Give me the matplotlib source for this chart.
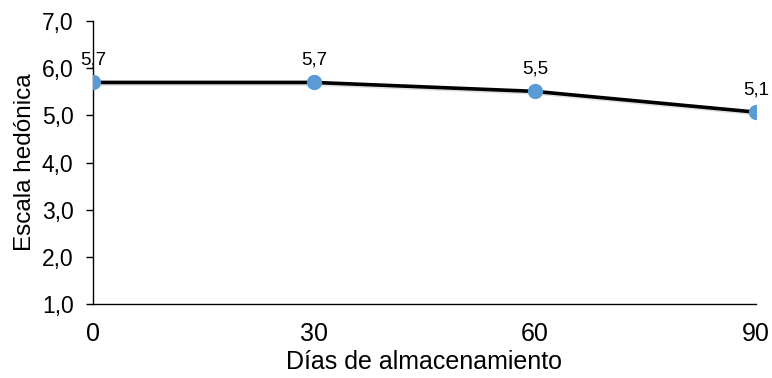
import matplotlib
matplotlib.use("Agg")
import matplotlib.pyplot as plt
import matplotlib.patheffects as pe

plt.rcParams['font.family'] = ['Liberation Sans', 'DejaVu Sans']

days = [0, 30, 60, 90]
scores = [5.70, 5.70, 5.51, 5.07]
labels = ["5,7", "5,7", "5,5", "5,1"]
yticks = [1.0, 2.0, 3.0, 4.0, 5.0, 6.0, 7.0]
ytick_labels = ["1,0", "2,0", "3,0", "4,0", "5,0", "6,0", "7,0"]

fig = plt.figure(figsize=(7.72, 3.78), dpi=100)
ax = fig.add_axes([0.1205, 0.196, 0.8585, 0.748])

ax.plot(days, scores, color='black', lw=2.6, zorder=2,
        path_effects=[pe.SimpleLineShadow(offset=(0.8, -1.2), alpha=0.12), pe.Normal()])
ax.plot(days, scores, ls='none', marker='o', ms=10, color='#5B9BD5',
        mec='#5B9BD5', zorder=3)

for x, y, t in zip(days, scores, labels):
    ax.annotate(t, (x, y), xytext=(0, 13), textcoords='offset points',
                ha='center', va='baseline', fontsize=13.5)

ax.set_xlim(0, 90)
ax.set_ylim(1.0, 7.0)
ax.set_xticks(days)
ax.set_xticklabels([str(d) for d in days], fontsize=18)
ax.set_yticks(yticks)
ax.set_yticklabels(ytick_labels, fontsize=16.5)
ax.tick_params(axis='x', length=0, pad=13)
ax.tick_params(axis='y', length=5, width=1, direction='out', pad=9)
for s in ['top', 'right']:
    ax.spines[s].set_visible(False)
for s in ['left', 'bottom']:
    ax.spines[s].set_linewidth(1)
ax.set_xlabel("Días de almacenamiento", fontsize=18, labelpad=3)
ax.set_ylabel("Escala hedónica", fontsize=17.5, labelpad=4.5)

fig.savefig("out.png", dpi=100)
